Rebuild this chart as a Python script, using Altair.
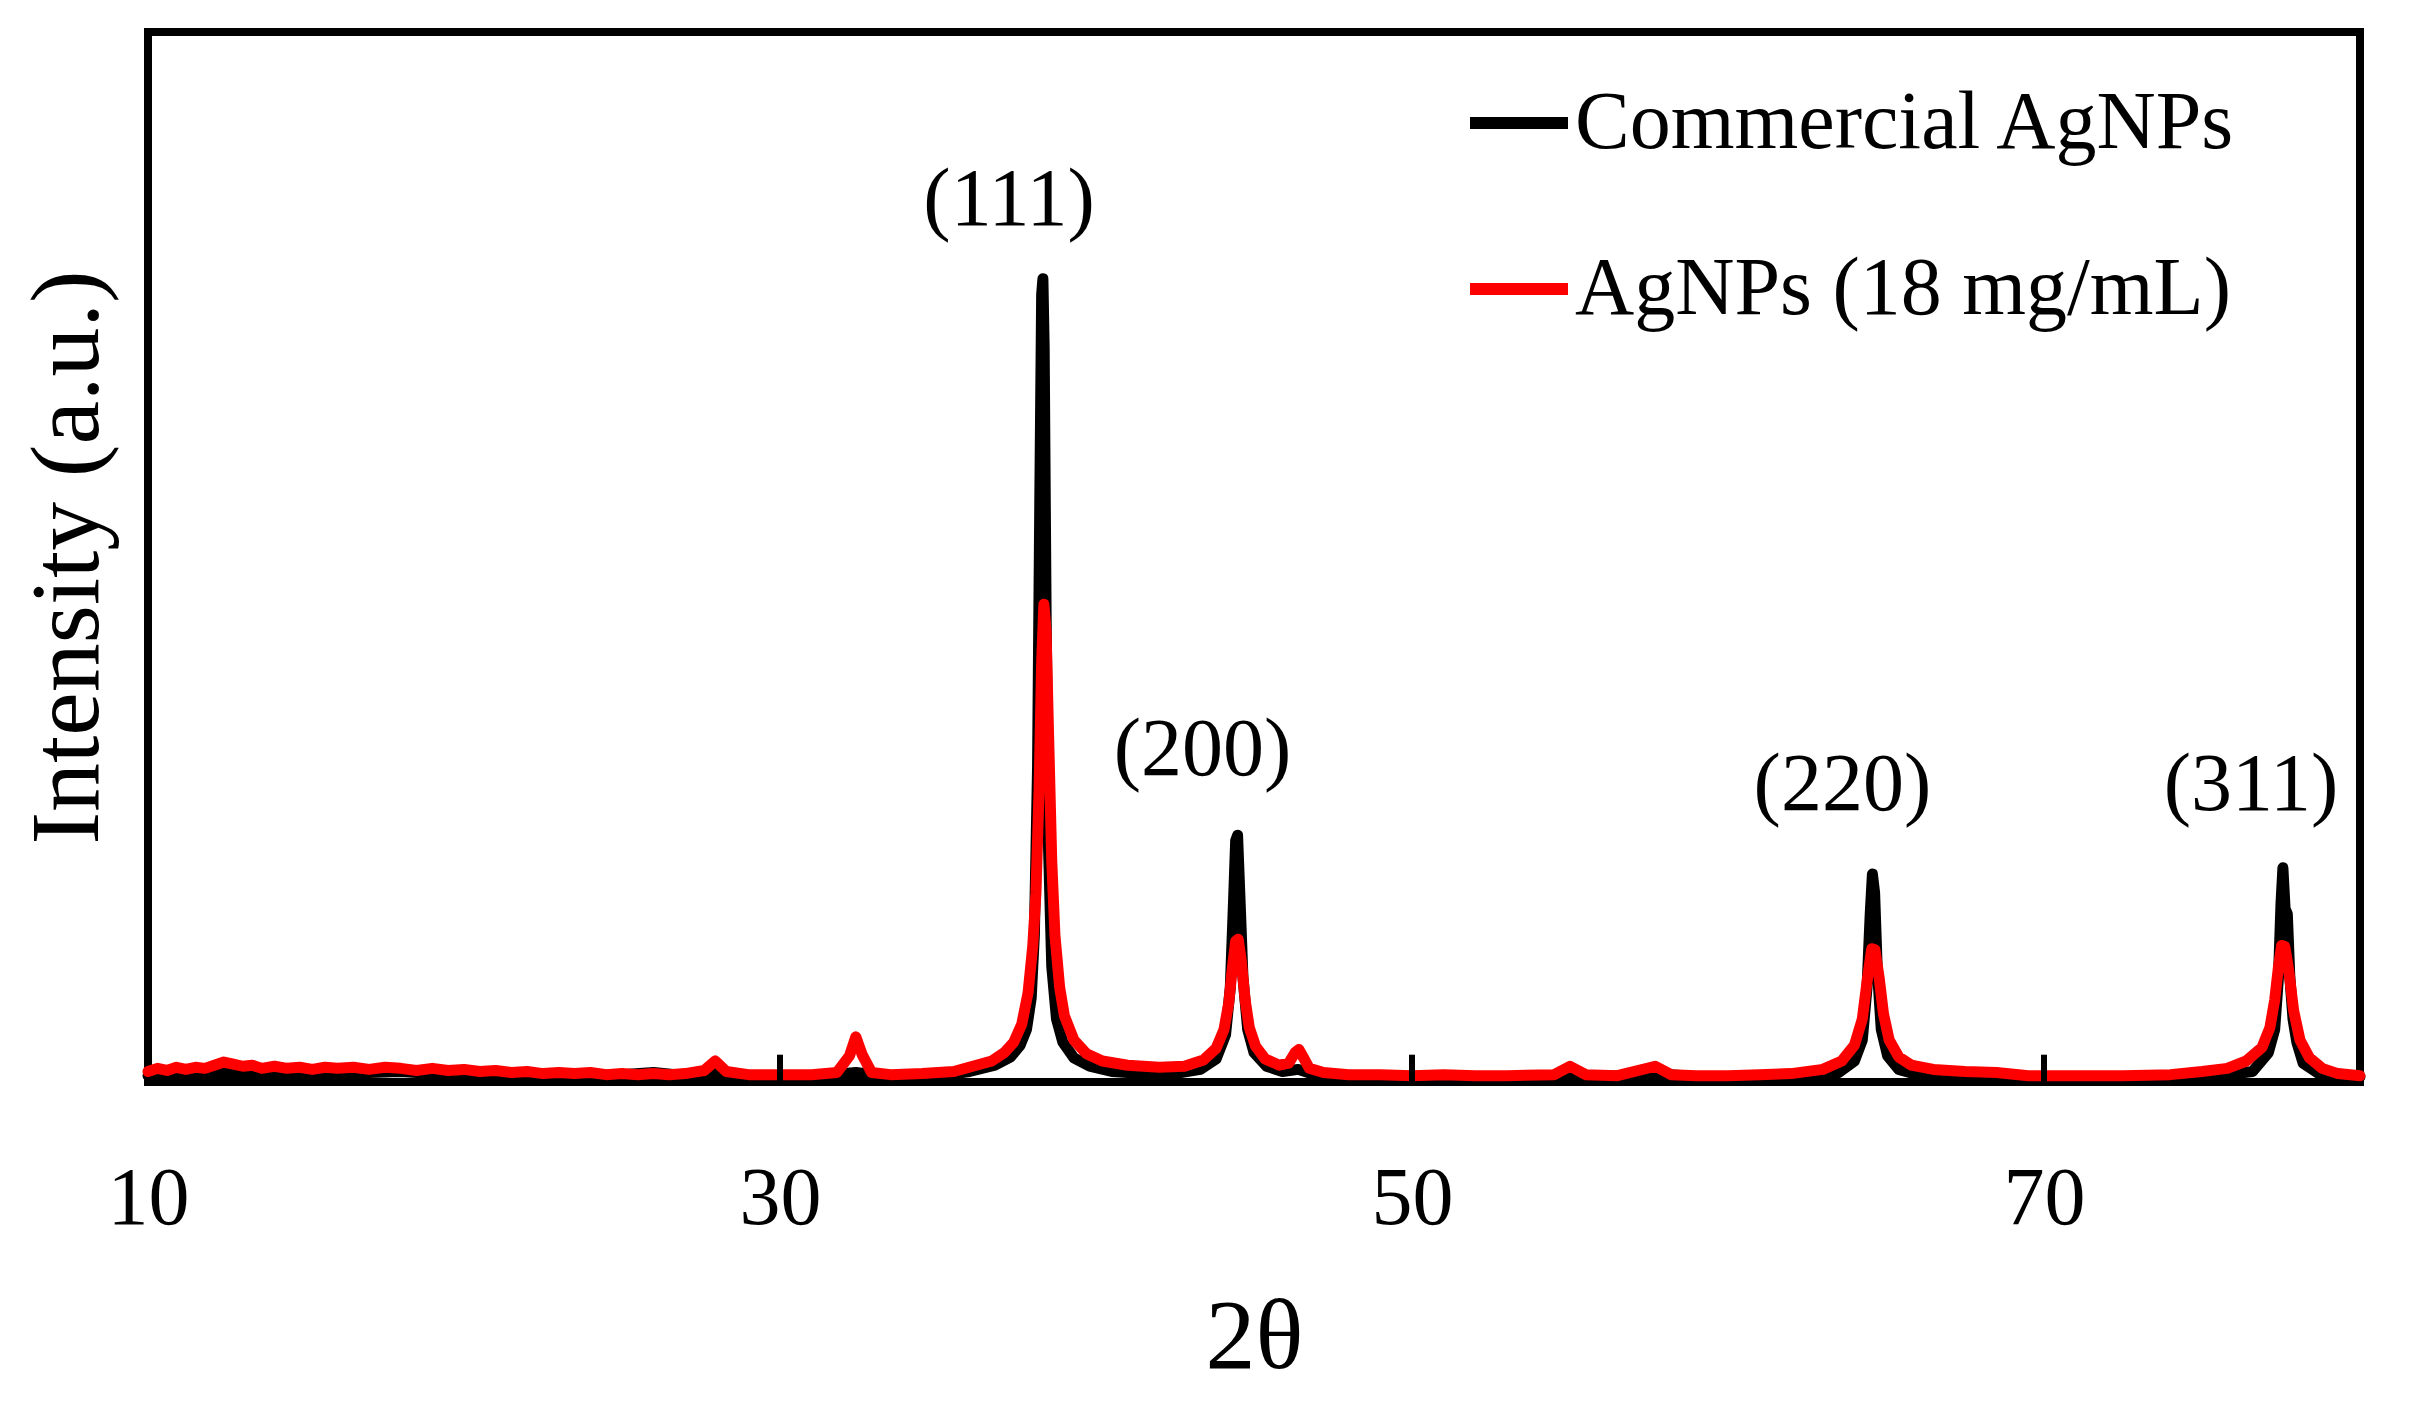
import altair as alt
import pandas as pd

# ---------------- data ----------------
series_names = ["Commercial AgNPs", "AgNPs (18 mg/mL)"]
series_colors = ["#000000", "#ff0000"]

# Commercial AgNPs (black), split by region
black_x_low = [10, 11, 12, 12.5, 13, 14, 15, 16, 17, 18, 19, 20, 21, 22, 23, 24, 25, 26, 27, 28, 29, 30, 31, 32.4, 33.5, 34.5, 35.3]
black_y_low = [0.6, 0.7, 0.7, 0.9, 0.8, 0.8, 0.7, 0.8, 0.9, 1.0, 0.8, 0.7, 0.7, 0.6, 0.6, 0.6, 0.7, 0.9, 0.6, 0.8, 0.5, 0.5, 0.5, 0.9, 0.5, 0.6, 0.7]
black_x_111 = [36.0, 36.8, 37.3, 37.6, 37.8, 37.95, 38.05, 38.15, 38.22, 38.28, 38.32, 38.36, 38.42, 38.5, 38.6, 38.75, 38.95, 39.3, 39.8, 40.5, 41.5, 42.5]
black_y_111 = [1.0, 1.6, 2.4, 3.5, 5.0, 8, 14, 30, 55, 75, 76.5, 70, 45, 22, 11, 6, 3.8, 2.3, 1.5, 1.0, 0.8, 0.8]
black_x_200 = [43.3, 43.8, 44.1, 44.25, 44.35, 44.42, 44.48, 44.55, 44.65, 44.8, 45.0, 45.4, 45.9, 46.4, 46.9, 48, 50, 52, 54, 55, 56, 57.7, 59, 61, 62.5]
black_y_200 = [1.2, 2.2, 4.5, 9, 17, 23, 23.5, 18, 10, 5, 2.8, 1.5, 1.0, 1.2, 0.7, 0.5, 0.5, 0.5, 0.5, 0.8, 0.5, 0.8, 0.5, 0.5, 0.6]
black_x_220 = [63.5, 64.0, 64.25, 64.4, 64.5, 64.57, 64.64, 64.72, 64.85, 65.05, 65.4, 66, 67.5, 69, 71, 73, 74.5, 75.5]
black_y_220 = [0.9, 2.0, 4, 9, 16, 19.8, 18, 11, 5, 2.5, 1.2, 0.7, 0.5, 0.5, 0.5, 0.5, 0.5, 0.6]
black_x_311 = [76.6, 77.1, 77.3, 77.42, 77.5, 77.56, 77.63, 77.7, 77.78, 77.88, 78.0, 78.2, 78.7, 79.5, 80]
black_y_311 = [1.0, 2.8, 5, 10, 17, 20.4, 16.5, 16, 10, 6, 3.8, 1.8, 0.8, 0.5, 0.5]

# AgNPs (18 mg/mL) (red), split by region
red_x_low = [10.0, 10.3, 10.6, 10.9, 11.2, 11.5, 11.8, 12.1, 12.4, 12.7, 13.0, 13.3, 13.6, 14.0, 14.4, 14.8,
             15.2, 15.6, 16.0, 16.5, 17.0, 17.5, 18.0, 18.5, 19.0, 19.5, 20.0, 20.5, 21.0, 21.5, 22.0, 22.5,
             23.0, 23.5, 24.0, 24.5, 25.0, 25.5, 26.0, 26.5, 27.0]
red_y_low = [1.0, 1.3, 1.1, 1.4, 1.2, 1.4, 1.3, 1.6, 1.9, 1.7, 1.5, 1.6, 1.3, 1.5, 1.3, 1.4,
             1.2, 1.4, 1.3, 1.4, 1.2, 1.4, 1.3, 1.1, 1.3, 1.1, 1.2, 1.0, 1.1, 0.9, 1.0, 0.8,
             0.9, 0.8, 0.9, 0.7, 0.8, 0.7, 0.8, 0.7, 0.8]
red_x_mid = [27.6, 27.95, 28.3, 29.0, 30.0, 31.0, 31.8, 32.2, 32.4, 32.6, 32.9, 33.5, 34.5, 35.5, 36.1, 36.7,
             37.1, 37.4, 37.65, 37.85, 38.0, 38.1, 38.2, 38.28, 38.35, 38.42, 38.5, 38.6, 38.7, 38.85, 39.0, 39.3,
             39.7, 40.2, 41.0, 42.0]
red_y_mid = [1.1, 2.0, 1.0, 0.7, 0.7, 0.7, 0.9, 2.5, 4.3, 2.6, 0.9, 0.7, 0.8, 1.0, 1.5, 2.0,
             2.8, 3.8, 5.5, 8.5, 13, 18, 28, 40, 45.5, 43, 33, 21, 14, 9, 6.3, 4.0,
             2.7, 2.0, 1.6, 1.4]
red_x_high = [42.8, 43.4, 43.8, 44.05, 44.2, 44.32, 44.42, 44.5, 44.6, 44.72, 44.85, 45.05, 45.35, 45.8, 46.1, 46.3,
              46.42, 46.55, 46.75, 47.2, 48, 49, 50, 51, 52, 53, 54.5, 55.0, 55.5, 56.5, 57.7, 58.2,
              59, 60, 61, 62, 63.0, 63.6, 64.0, 64.25, 64.42, 64.55, 64.65, 64.78, 64.92, 65.1, 65.4, 65.8,
              66.5, 67.5, 68.5, 69.5, 71, 72.5, 74, 75, 75.8, 76.4, 76.9, 77.15, 77.3, 77.42, 77.52, 77.62,
              77.75, 77.9, 78.1, 78.4, 78.8, 79.3, 80]
red_y_high = [1.5, 2.1, 3.2, 5.0, 7.5, 11, 13.4, 13.6, 11.5, 7.8, 5.2, 3.4, 2.2, 1.6, 1.8, 2.8,
              3.1, 2.4, 1.3, 0.9, 0.7, 0.7, 0.6, 0.7, 0.6, 0.6, 0.7, 1.5, 0.7, 0.6, 1.5, 0.7,
              0.6, 0.6, 0.7, 0.8, 1.2, 2.0, 3.5, 6, 10, 12.7, 12.6, 10, 6.5, 4.0, 2.4, 1.6,
              1.2, 1.0, 0.9, 0.6, 0.6, 0.6, 0.7, 1.0, 1.3, 2.0, 3.3, 5.2, 7.8, 11, 13, 12.9,
              10.5, 6.8, 4.0, 2.3, 1.3, 0.8, 0.6]

# peak annotations
peak_labels = ["(111)", "(200)", "(220)", "(311)"]
peak_label_x = [37.25, 43.37, 63.62, 76.55]
peak_label_y = [81.6, 29.2, 25.9, 25.9]

# x tick labels and inward tick marks
tick_values = [10, 30, 50, 70]
inner_tick_x = [30, 50, 70]
inner_tick_len = 2.6

# ---------------- build tables ----------------
black_x = black_x_low + black_x_111 + black_x_200 + black_x_220 + black_x_311
black_y = black_y_low + black_y_111 + black_y_200 + black_y_220 + black_y_311
red_x = red_x_low + red_x_mid + red_x_high
red_y = red_y_low + red_y_mid + red_y_high
df_black = pd.DataFrame({"two_theta": black_x, "intensity": black_y, "sample": series_names[0]})
df_red = pd.DataFrame({"two_theta": red_x, "intensity": red_y, "sample": series_names[1]})
df_labels = pd.DataFrame({"two_theta": peak_label_x, "intensity": peak_label_y, "label": peak_labels})
df_ticks = pd.DataFrame({"two_theta": inner_tick_x, "intensity": [0] * len(inner_tick_x),
                         "intensity2": [inner_tick_len] * len(inner_tick_x)})

FONT = "Liberation Serif"

x_enc = alt.X(
    "two_theta:Q",
    scale=alt.Scale(domain=[10, 80], nice=False, zero=False),
    axis=alt.Axis(
        title="2θ", values=tick_values, ticks=False, domain=False, grid=False,
        labelFontSize=82, labelFont=FONT, labelColor="black", labelPadding=76,
        labelFlush=False, labelOverlap=False,
        titleFontSize=100, titleFont=FONT, titleColor="black", titleFontWeight="normal",
        titlePadding=49,
    ),
)
y_enc = alt.Y(
    "intensity:Q",
    scale=alt.Scale(domain=[0, 100], nice=False),
    axis=alt.Axis(
        title="Intensity (a.u.)", labels=False, ticks=False, domain=False, grid=False,
        titleFontSize=98, titleFont=FONT, titleColor="black", titleFontWeight="normal",
        titlePadding=30,
    ),
)
color_scale = alt.Scale(domain=series_names, range=series_colors)

black_line = alt.Chart(df_black).mark_line(strokeWidth=11, strokeJoin="round", strokeCap="round").encode(
    x=x_enc, y=y_enc,
    color=alt.Color(
        "sample:N", scale=color_scale,
        legend=alt.Legend(
            title=None, orient="none", legendX=1316, legendY=36, direction="vertical",
            symbolType="stroke", symbolSize=9604, symbolStrokeWidth=12,
            labelFontSize=82, labelFont=FONT, labelColor="black", labelOffset=1,
            rowPadding=70, labelLimit=0, padding=0,
        ),
    ),
)
red_line = alt.Chart(df_red).mark_line(strokeWidth=11, strokeJoin="round", strokeCap="round").encode(
    x=x_enc, y=y_enc, color=alt.Color("sample:N", scale=color_scale),
)
ticks = alt.Chart(df_ticks).mark_rule(color="black", strokeWidth=6).encode(
    x=x_enc, y=y_enc, y2="intensity2:Q",
)
labels = alt.Chart(df_labels).mark_text(
    font=FONT, fontSize=82, color="black", align="center", baseline="alphabetic"
).encode(x=x_enc, y=y_enc, text="label:N")

chart = alt.layer(black_line, red_line, ticks, labels).properties(
    width=2212, height=1050,
    padding={"left": 140, "top": 24, "right": 54, "bottom": 320},
    autosize=alt.AutoSizeParams(type="none"),
).configure(
    font=FONT, background="white"
).configure_view(
    stroke="black", strokeWidth=8
)

chart.save("out.html", embed_options={"renderer": "svg", "actions": False})
